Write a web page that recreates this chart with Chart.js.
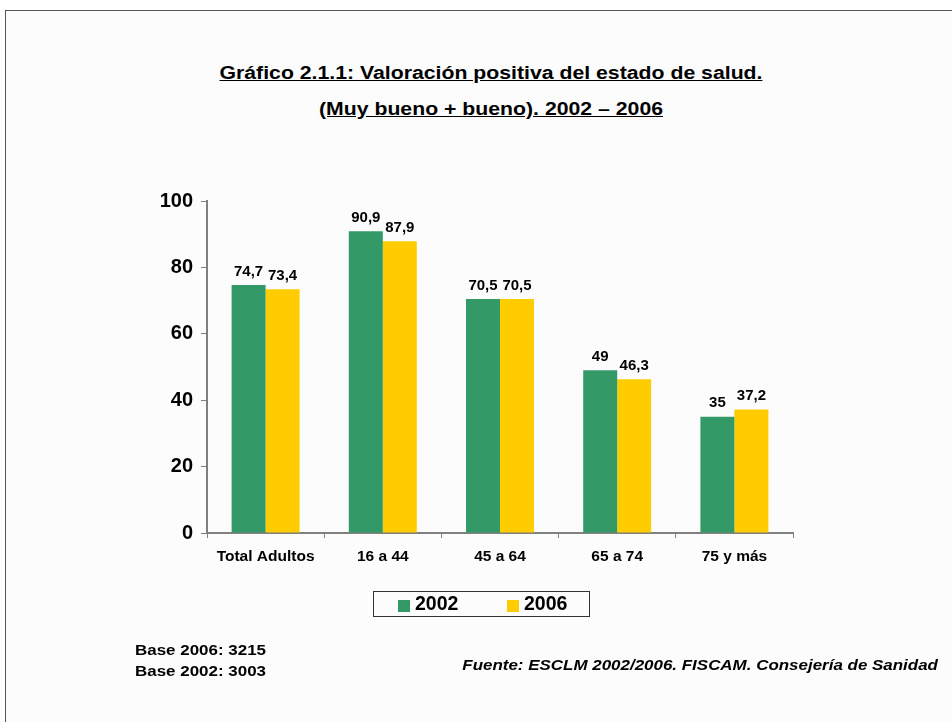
<!DOCTYPE html>
<html>
<head>
<meta charset="utf-8">
<script src="https://cdn.jsdelivr.net/npm/chart.js@4.4.1/dist/chart.umd.min.js"></script>
<style>
  html, body { margin: 0; padding: 0; background: #fff; }
  body { width: 952px; height: 722px; position: relative; overflow: hidden;
         font-family: Arial, "Liberation Sans", sans-serif; }
  #frame { position: absolute; left: 5px; top: 10px; right: -2px; bottom: -2px;
           border-left: 1px solid #555; border-top: 1px solid #555; background: #fcfcfc; }
  #chartWrap { position: absolute; left: 0; top: 0; width: 952px; height: 722px; }
  .title { position: absolute; left: 0; width: 982px; text-align: center;
           font-weight: bold; font-size: 18px; text-decoration: underline; color: #000;
           transform: scaleX(1.18); transform-origin: 491px 0; }
  .note { position: absolute; font-weight: bold; font-size: 15px; color: #000;
          transform: scaleX(1.13); }
</style>
</head>
<body>
<div id="frame"></div>
<div class="title" style="top:63px">Gráfico 2.1.1: Valoración positiva del estado de salud.</div>
<div class="title" style="top:99px">(Muy bueno + bueno). 2002 – 2006</div>
<div id="chartWrap"><canvas id="chart" width="952" height="722"></canvas></div>
<div class="note" style="left:135px;top:641px;transform-origin:0 0">Base 2006: 3215</div>
<div class="note" style="left:135px;top:662px;transform-origin:0 0">Base 2002: 3003</div>
<div class="note" style="right:14px;top:656px;font-style:italic;transform-origin:100% 0">Fuente: ESCLM 2002/2006. FISCAM. Consejería de Sanidad</div>

<script>
// ── DATA ──────────────────────────────────────────────
const categories = ['Total Adultos', '16 a 44', '45 a 64', '65 a 74', '75 y más'];
const values2002 = [74.7, 90.9, 70.5, 49, 35];
const values2006 = [73.4, 87.9, 70.5, 46.3, 37.2];
const yTicks     = [0, 20, 40, 60, 80, 100];

const font = 'Arial, "Liberation Sans", sans-serif';
const axisGray = '#808080';

// value labels above each bar, decimal comma
const barLabels = {
  id: 'barLabels',
  afterDatasetsDraw(chart) {
    const { ctx } = chart;
    ctx.save();
    ctx.font = `bold 15px ${font}`;
    ctx.fillStyle = '#000';
    ctx.textAlign = 'center';
    ctx.textBaseline = 'bottom';
    chart.data.datasets.forEach((ds, i) => {
      chart.getDatasetMeta(i).data.forEach((bar, j) => {
        const txt = String(ds.data[j]).replace('.', ',');
        ctx.fillText(txt, bar.x, bar.y - 6);
      });
    });
    ctx.restore();
  }
};

// boxed legend under the axis
const boxLegend = {
  id: 'boxLegend',
  afterDraw(chart) {
    const { ctx, chartArea } = chart;
    const left = chartArea.left + 166, top = chartArea.bottom + 58;
    const w = 216, h = 25;
    ctx.save();
    ctx.strokeStyle = '#333';
    ctx.lineWidth = 1;
    ctx.strokeRect(left + 0.5, top + 0.5, w, h);
    ctx.font = `bold 19.5px ${font}`;
    ctx.textBaseline = 'middle';
    ctx.textAlign = 'left';
    chart.data.datasets.forEach((ds, i) => {
      const x = left + 25 + i * 109;
      ctx.fillStyle = ds.backgroundColor;
      ctx.fillRect(x, top + 9, 12, 12);
      ctx.fillStyle = '#000';
      ctx.fillText(ds.label, x + 17, top + 14);
    });
    ctx.restore();
  }
};

new Chart(document.getElementById('chart'), {
  type: 'bar',
  data: {
    labels: categories,
    datasets: [
      { label: '2002', data: values2002, backgroundColor: '#339966' },
      { label: '2006', data: values2006, backgroundColor: '#FFCC00' },
    ],
  },
  options: {
    responsive: false,
    animation: false,
    layout: { padding: { left: 147, right: 159, top: 201, bottom: 139 } },
    datasets: { bar: { categoryPercentage: 0.58, barPercentage: 1.0 } },
    plugins: { legend: { display: false }, tooltip: { enabled: false } },
    scales: {
      x: {
        afterFit: s => { s.height = 50; },
        grid: { offset: true, drawOnChartArea: false, drawTicks: true, tickLength: 5, color: axisGray },
        border: { color: axisGray, width: 2 },
        ticks: { font: { family: font, size: 15.5, weight: 'bold' }, color: '#000', padding: 9 },
      },
      y: {
        min: 0, max: 100,
        afterFit: s => { s.width = 60; },
        afterBuildTicks: s => { s.ticks = yTicks.map(v => ({ value: v })); },
        grid: { drawOnChartArea: false, drawTicks: true, tickLength: 6, color: axisGray },
        border: { color: axisGray, width: 2 },
        ticks: { font: { family: font, size: 20, weight: 'bold' }, color: '#000', padding: 8 },
      },
    },
  },
  plugins: [barLabels, boxLegend],
});
</script>
</body>
</html>
